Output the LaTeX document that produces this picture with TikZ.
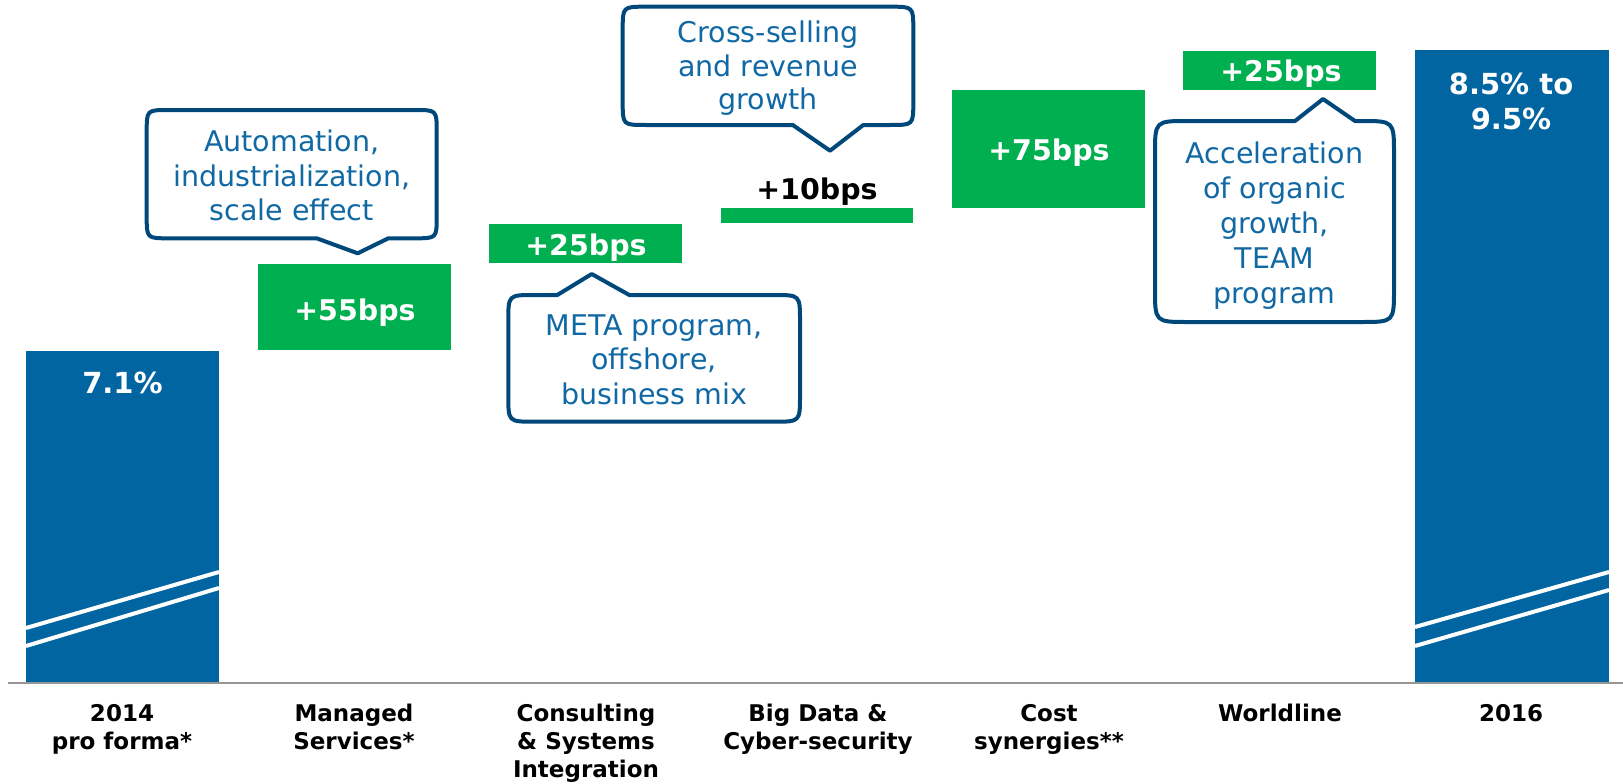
\documentclass[tikz,border=0pt]{standalone}
\usepackage{fontspec}
\setmainfont{DejaVu Sans}
\definecolor{barblue}{RGB}{0,101,160}
\definecolor{gain}{RGB}{0,176,80}
\definecolor{calloutline}{RGB}{0,72,122}
\definecolor{callouttext}{RGB}{16,104,164}
\definecolor{axisgray}{RGB}{150,150,150}
% x1 y1 x2 y2 baseleft baseright tipx tipy radius : pointer below
\newcommand\mycallbelow[9]{%
 \draw[callout] (#1+#9,#2) -- (#3-#9,#2) .. controls (#3,#2) .. (#3,#2+#9) -- (#3,#4-#9) .. controls (#3,#4) .. (#3-#9,#4) -- (#6,#4) -- (#7,#8) -- (#5,#4) -- (#1+#9,#4) .. controls (#1,#4) .. (#1,#4-#9) -- (#1,#2+#9) .. controls (#1,#2) .. (#1+#9,#2) -- cycle;}
% pointer above
\newcommand\mycallabove[9]{%
 \draw[callout] (#1+#9,#2) -- (#5,#2) -- (#7,#8) -- (#6,#2) -- (#3-#9,#2) .. controls (#3,#2) .. (#3,#2+#9) -- (#3,#4-#9) .. controls (#3,#4) .. (#3-#9,#4) -- (#1+#9,#4) .. controls (#1,#4) .. (#1,#4-#9) -- (#1,#2+#9) .. controls (#1,#2) .. (#1+#9,#2) -- cycle;}
\begin{document}
\begin{tikzpicture}[x=1pt,y=-1pt,
  bar/.style={fill=barblue, draw=none, inner sep=0pt, outer sep=0pt, anchor=north west},
  gainbox/.style={fill=gain, draw=none, inner sep=0pt, outer sep=0pt, anchor=north west},
  gainlabel/.style={text=white, font=\bfseries\fontsize{28.5}{34}\selectfont, anchor=base, inner sep=0pt},
  barlabel/.style={text=white, font=\bfseries\fontsize{29}{35}\selectfont, anchor=base, inner sep=0pt, align=center},
  catlabel/.style={text=black, font=\bfseries\fontsize{23}{28}\selectfont, anchor=base, inner sep=0pt, align=center},
  callout/.style={draw=calloutline, line width=4pt, fill=white, line join=round},
  callouttxt/.style={text=callouttext, font=\fontsize{28.5}{34.5}\selectfont, anchor=base, inner sep=0pt, align=center},
  breakline/.style={white, line width=4pt},
  axisline/.style={axisgray, line width=2pt}]
\useasboundingbox (0,0) rectangle (1623,784);
% bars
\node[bar, minimum width=193pt, minimum height=331pt] (bar1) at (26,351) {};
\node[bar, minimum width=194pt, minimum height=632pt] (bar2) at (1415,50) {};
\draw[breakline] (26,628) -- (219,572);
\draw[breakline] (26,646) -- (219,588);
\draw[breakline] (1415,627) -- (1609,572);
\draw[breakline] (1415,646) -- (1609,590);
% axis
\coordinate (axL) at (8,682.5);
\coordinate (axR) at (1623,682.5);
\draw[axisline] (axL) -- (axR);
% gain boxes
\node[gainbox, minimum width=193pt, minimum height=86pt] (g1) at (258,264) {};
\node[gainbox, minimum width=193pt, minimum height=39pt] (g2) at (489,224) {};
\node[gainbox, minimum width=192pt, minimum height=15pt] (g3) at (721,208) {};
\node[gainbox, minimum width=193pt, minimum height=118pt] (g4) at (952,90) {};
\node[gainbox, minimum width=193pt, minimum height=39pt] (g5) at (1183,51) {};
% value labels (base = last line baseline)
\node[barlabel] (v1) at (122.5,393.3) {7.1\%};
\node[barlabel] (v2) at (1511,129) {8.5\% to\\9.5\%};
\node[gainlabel] (t1) at (355,320) {+55bps};
\node[gainlabel] (t2) at (586,255) {+25bps};
\node[gainlabel, text=black] (t3) at (817,199) {+10bps};
\node[gainlabel] (t4) at (1049,160.7) {+75bps};
\node[gainlabel] (t5) at (1281,81.7) {+25bps};
% callouts
\mycallbelow{146.7}{110}{436.7}{238.3}{316.7}{388.3}{357.7}{253.3}{22}
\node[callouttxt] (c1) at (291.7,220.5) {Automation,\\industrialization,\\scale effect};
\mycallabove{508.3}{295}{800}{421.7}{557.3}{629.3}{591.7}{274}{26}
\node[callouttxt] (c2) at (654,404) {META program,\\offshore,\\business mix};
\mycallbelow{622.7}{6.7}{913.3}{125}{792.7}{863.3}{830}{150.7}{23}
\node[callouttxt, font=\fontsize{28.5}{33.5}\selectfont] (c3) at (768,110) {Cross-selling\\and revenue\\growth};
\mycallabove{1155}{121}{1394}{322}{1295}{1355}{1323}{99}{33}
\node[callouttxt, font=\fontsize{28.5}{35}\selectfont] (c4) at (1274.5,303) {Acceleration\\of organic\\growth,\\TEAM\\program};
% category labels
\node[catlabel] (l1) at (122,749.5) {2014\\pro forma*};
\node[catlabel] (l2) at (354,749.5) {Managed\\Services*};
\node[catlabel] (l3) at (586,777.5) {Consulting\\\& Systems\\Integration};
\node[catlabel] (l4) at (818,749.5) {Big Data \&\\Cyber-security};
\node[catlabel] (l5) at (1049,749.5) {Cost\\synergies**};
\node[catlabel] (l6) at (1280,721.5) {Worldline};
\node[catlabel] (l7) at (1511,721.5) {2016};
\end{tikzpicture}
\end{document}
